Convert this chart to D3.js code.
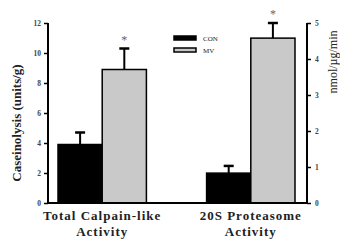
<!DOCTYPE html>
<html>
<head>
<meta charset="utf-8">
<script src="https://cdn.jsdelivr.net/npm/d3@7/dist/d3.min.js"></script>
<style>
  body { margin: 0; background: #fff; }
  svg text { font-family: "Liberation Serif", "DejaVu Serif", serif; }
</style>
</head>
<body>
<svg id="chart" width="340" height="242"></svg>
<script>
// data
const categories = ['calpain', 'proteasome'];
const catLines = [['Total Calpain-like', 'Activity'], ['20S Proteasome', 'Activity']];
const groups = ['CON', 'MV'];
const conValues = [3.9, 0.83];
const conErrors = [0.8, 0.2];
const mvValues = [8.9, 4.58];
const mvErrors = [1.4, 0.42];
const significant = [true, true];
const leftTicks = [0, 2, 4, 6, 8, 10, 12];
const rightTicks = [0, 1, 2, 3, 4, 5];

const svg = d3.select('#chart');
const fill = { CON: '#000', MV: '#c9c9c9' };

// plot box
const x0 = 48, x1 = 307, yBase = 203, yTop = 23;

const yLeft = d3.scaleLinear().domain([0, 12]).range([yBase, yTop]);
const yRight = d3.scaleLinear().domain([0, 5]).range([yBase, yTop]);

const xCat = d3.scaleBand().domain(categories).range([58, 295]).paddingInner(0.405);
const xGrp = d3.scaleBand().domain(groups).range([0, xCat.bandwidth()]);

// each category uses its own axis
const scaleFor = i => i === 0 ? yLeft : yRight;

const rows = categories.map((c, i) => groups.map(g => ({
    cat: c,
    grp: g,
    i: i,
    v: g === 'CON' ? conValues[i] : mvValues[i],
    e: g === 'CON' ? conErrors[i] : mvErrors[i]
}))).flat();

const bars = svg.append('g');
rows.forEach(d => {
    const y = scaleFor(d.i);
    const bx = xCat(d.cat) + xGrp(d.grp);
    const cx = bx + xGrp.bandwidth() / 2;
    // error bar (upper only)
    bars.append('line')
        .attr('x1', cx).attr('x2', cx)
        .attr('y1', y(d.v)).attr('y2', y(d.v + d.e))
        .attr('stroke', '#000').attr('stroke-width', 2);
    bars.append('line')
        .attr('x1', cx - 5).attr('x2', cx + 5)
        .attr('y1', y(d.v + d.e)).attr('y2', y(d.v + d.e))
        .attr('stroke', '#000').attr('stroke-width', 2.5);
    bars.append('rect')
        .attr('x', bx).attr('y', y(d.v))
        .attr('width', xGrp.bandwidth()).attr('height', yBase - y(d.v))
        .attr('fill', fill[d.grp])
        .attr('stroke', '#000').attr('stroke-width', 1.5);
    if (d.grp === 'MV' && significant[d.i]) {
        bars.append('text')
            .attr('x', cx).attr('y', y(d.v + d.e) - 5)
            .attr('text-anchor', 'middle')
            .attr('font-size', 12).attr('fill', '#666')
            .text('*');
    }
});

// axes
const axL = svg.append('g').attr('transform', `translate(${x0},0)`)
    .call(d3.axisLeft(yLeft).tickValues(leftTicks).tickSize(4).tickPadding(3).tickFormat(d3.format('d')));
const axR = svg.append('g').attr('transform', `translate(${x1},0)`)
    .call(d3.axisRight(yRight).tickValues(rightTicks).tickSize(4).tickPadding(4).tickFormat(d3.format('d')));
[axL, axR].forEach(ax => {
    ax.select('.domain').remove();
    ax.selectAll('.tick line').attr('stroke-width', 1.5);
    ax.selectAll('.tick text')
        .attr('font-size', 7.5).attr('font-weight', 'bold').attr('fill', '#444')
        .style('font-family', '"Liberation Serif", serif');
});
svg.append('line').attr('x1', x0).attr('x2', x0).attr('y1', yTop).attr('y2', yBase + 1)
    .attr('stroke', '#000').attr('stroke-width', 2);
svg.append('line').attr('x1', x1).attr('x2', x1).attr('y1', yTop).attr('y2', yBase + 1)
    .attr('stroke', '#000').attr('stroke-width', 2);
svg.append('line').attr('x1', x0).attr('x2', x1).attr('y1', yBase).attr('y2', yBase)
    .attr('stroke', '#000').attr('stroke-width', 2);

// axis titles
svg.append('text')
    .attr('transform', 'translate(21,123) rotate(-90)')
    .attr('text-anchor', 'middle')
    .attr('font-size', 13).attr('font-weight', 'bold').attr('fill', '#222')
    .text('Caseinolysis (units/g)');
svg.append('text')
    .attr('transform', 'translate(337,62) rotate(-90)')
    .attr('text-anchor', 'middle')
    .attr('font-size', 12).attr('fill', '#222')
    .text('nmol/\u00b5g/min');

// category labels
categories.forEach((c, i) => {
    const cx = xCat(c) + xCat.bandwidth() / 2;
    catLines[i].forEach((t, j) => {
        svg.append('text')
            .attr('x', cx).attr('y', 220 + j * 16)
            .attr('text-anchor', 'middle')
            .attr('font-size', 13).attr('font-weight', 'bold').attr('fill', '#222')
            .attr('letter-spacing', 1)
            .text(t);
    });
});

// legend
const leg = svg.append('g').attr('transform', 'translate(174,36)');
groups.forEach((g, i) => {
    leg.append('rect')
        .attr('x', 0).attr('y', i * 12)
        .attr('width', 22).attr('height', 4)
        .attr('fill', fill[g]).attr('stroke', '#000').attr('stroke-width', 1.5);
    leg.append('text')
        .attr('x', 29).attr('y', i * 12 + 5)
        .attr('font-size', 7).attr('fill', '#222')
        .text(g);
});
</script>
</body>
</html>
